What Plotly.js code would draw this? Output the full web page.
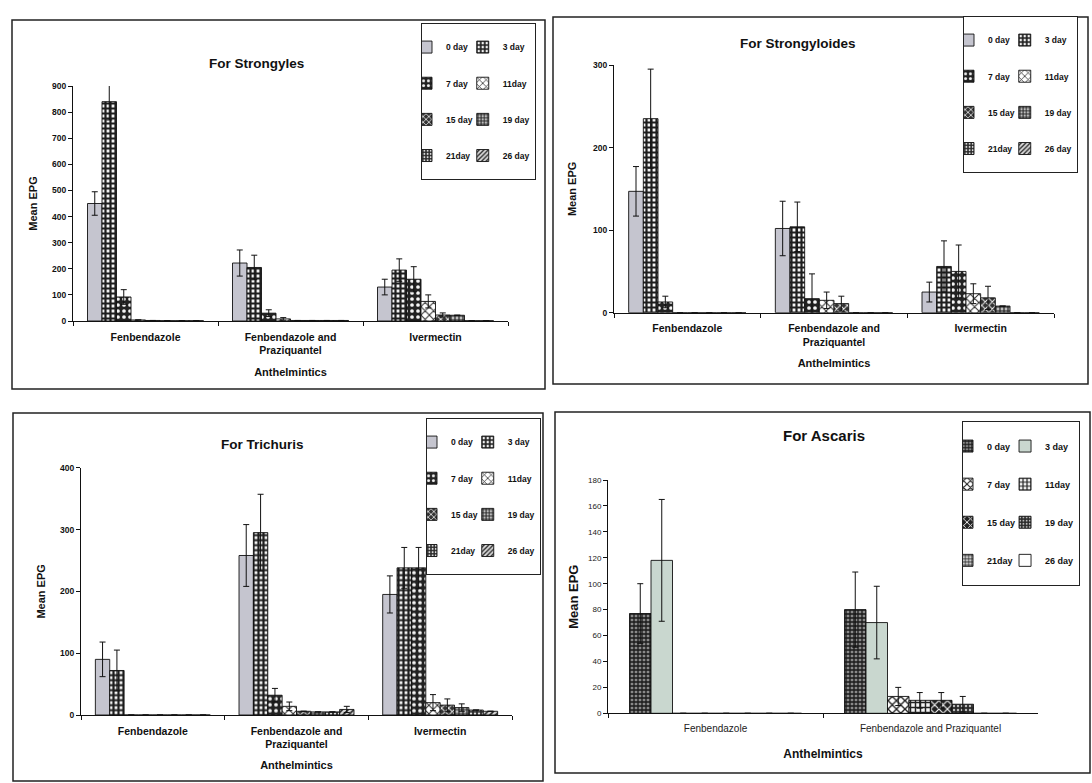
<!DOCTYPE html>
<html><head><meta charset="utf-8">
<script src="https://cdn.plot.ly/plotly-3.0.1.min.js"></script>
<style>html,body{margin:0;padding:0;background:#fff}#chart{width:1092px;height:783px}</style>
</head><body><div id="chart"></div>
<script>
// ---------- data ----------
const dayLabels = ['0 day','3 day','7 day','11day','15 day','19 day','21day','26 day'];
const drugs3 = ['Fenbendazole','Fenbendazole and<br>Praziquantel','Ivermectin'];
const drugs2 = ['Fenbendazole','Fenbendazole and Praziquantel'];

// rows = days (0,3,7,11,15,19,21,26), cols = drugs
const strongylesMean = [[450,222,130],[840,205,195],[92,30,160],[4,8,75],[2,2,23],[1,2,22],[1,2,1],[1,2,1]];
const strongylesErr  = [[45,50,30],[70,47,43],[28,13,48],[0,5,25],[0,0,8],[0,0,0],[0,0,0],[0,0,0]];

const strongyloidesMean = [[147,102,25],[235,104,56],[13,17,50],[0,15,23],[0,11,18],[0,0,8],[0,0,0],[0,0,0]];
const strongyloidesErr  = [[30,33,12],[60,30,31],[7,30,32],[0,10,12],[0,9,14],[0,0,0],[0,0,0],[0,0,0]];

const trichurisMean = [[90,258,195],[72,295,238],[0,32,238],[0,14,20],[0,6,16],[0,5,12],[0,5,8],[0,9,6]];
const trichurisErr  = [[28,50,30],[33,62,33],[0,11,33],[0,7,13],[0,0,10],[0,0,6],[0,0,0],[0,5,0]];

const ascarisMean = [[77,80],[118,70],[0,13],[0,10],[0,10],[0,7],[0,0],[0,0]];
const ascarisErr  = [[23,29],[47,28],[0,7],[0,6],[0,6],[0,6],[0,0],[0,0]];

// ---------- styles ----------
const FONT = 'Liberation Sans, Arial, sans-serif';
const P = (shape, fg, bg, size, solidity) => ({shape, fgcolor: fg, bgcolor: bg, size, solidity, fillmode: 'replace'});
const solid = c => ({color: c});
const stylesA = [ // Strongyles / Strongyloides / Trichuris
  solid('#c5c5cf'),
  {color:'#333', pattern: P('+','#1e1e1e','#f2f2f2',5,0.68)},
  {color:'#333', pattern: P('.','#f4f4f4','#222222',6,0.3)},
  {color:'#fff', pattern: P('x','#2a2a2a','#ffffff',6,0.3)},
  {color:'#555', pattern: P('x','#f0f0f0','#333333',5,0.35)},
  {color:'#333', pattern: P('+','#202020','#bdbdbd',4,0.5)},
  {color:'#333', pattern: P('.','#dddddd','#2b2b2b',4,0.3)},
  {color:'#666', pattern: P('/','#222222','#d8d8d8',4,0.4)}
];
const stylesB = [ // Ascaris
  {color:'#444', pattern: P('+','#1a1a1a','#8a8a8a',4,0.55)},
  solid('#c9d7cf'),
  {color:'#fff', pattern: P('x','#222222','#ffffff',6,0.4)},
  {color:'#333', pattern: P('+','#222222','#f4f4f4',5,0.5)},
  {color:'#333', pattern: P('x','#f4f4f4','#222222',6,0.35)},
  {color:'#333', pattern: P('.','#bbbbbb','#2a2a2a',4,0.3)},
  {color:'#666', pattern: P('+','#222222','#cccccc',4,0.4)},
  solid('#ffffff')
];

const panels = [
  {mean: strongylesMean, err: strongylesErr, cats: drugs3, xa:'x',  ya:'y',  lg:'legend',  st: stylesA},
  {mean: strongyloidesMean, err: strongyloidesErr, cats: drugs3, xa:'x2', ya:'y2', lg:'legend2', st: stylesA},
  {mean: trichurisMean, err: trichurisErr, cats: drugs3, xa:'x3', ya:'y3', lg:'legend3', st: stylesA},
  {mean: ascarisMean, err: ascarisErr, cats: drugs2, xa:'x4', ya:'y4', lg:'legend4', st: stylesB}
];

const traces = [];
panels.forEach((p, pi) => {
  dayLabels.forEach((d, i) => {
    const st = p.st[i];
    const marker = {color: st.color, line: {color: '#111', width: 0.9}};
    if (st.pattern) marker.pattern = st.pattern;
    traces.push({
      type: 'bar', x: p.cats, y: p.mean[i],
      name: ' <br>' + d + '<br> ',
      xaxis: p.xa, yaxis: p.ya, legend: p.lg,
      legendgroup: 'p' + pi + '_' + (i % 2),
      marker: marker, cliponaxis: false,
      error_y: {type: 'data', array: p.err[i], visible: true, color: '#111', thickness: 1, width: 3},
      hoverinfo: 'skip'
    });
  });
});

// ---------- layout ----------
const W = 1092, H = 783;
const px = v => v / W, py = v => 1 - v / H;
const tickY = {family: FONT, size: 8.5, color: '#111', weight: 'bold'};
const tickX = {family: FONT, size: 10.5, color: '#111', weight: 'bold'};
const titleB = {family: FONT, size: 11, color: '#111', weight: 'bold'};

function xAxis(d0, d1, anchor, tickfont, tfont, standoff) {
  return {domain: [px(d0), px(d1)], anchor: anchor, type: 'category', showline: true, linecolor: '#111', linewidth: 1,
    ticks: 'outside', tickson: 'boundaries', ticklen: 4, tickcolor: '#111', showgrid: false, zeroline: false,
    tickfont: tickfont, ticklabelstandoff: 6, automargin: false, fixedrange: true,
    title: {text: 'Anthelmintics', font: tfont, standoff: standoff}};
}
function yAxis(y0, y1, anchor, range, dtick, tickfont, tfont, standoff) {
  return {domain: [py(y0), py(y1)], anchor: anchor, range: range, dtick: dtick, showline: true, linecolor: '#111', linewidth: 1,
    ticks: 'outside', ticklen: 4, tickcolor: '#111', showgrid: false, zeroline: false, tickfont: tickfont,
    automargin: false, fixedrange: true,
    title: {text: 'Mean EPG', font: tfont, standoff: standoff}};
}
function legendAt(right, top, size) {
  return {x: px(right), xanchor: 'right', y: py(top), yanchor: 'top', orientation: 'h',
    bgcolor: '#ffffff', bordercolor: '#222', borderwidth: 1, tracegroupgap: 0, indentation: -15,
    font: {family: FONT, size: size, color: '#111', weight: 'bold'}, itemclick: false, itemdoubleclick: false};
}
function box(x0, y0, x1, y1) {
  return {type: 'rect', xref: 'paper', yref: 'paper', x0: px(x0), x1: px(x1), y0: py(y1), y1: py(y0),
    line: {color: '#222', width: 1.5}, fillcolor: 'rgba(0,0,0,0)', layer: 'below'};
}
function ttl(text, x, y, size) {
  return {text: text, x: px(x), y: py(y), xref: 'paper', yref: 'paper', showarrow: false,
    xanchor: 'center', yanchor: 'middle', font: {family: FONT, size: size, color: '#111', weight: 'bold'}};
}

const layout = {
  width: W, height: H, margin: {l: 0, r: 0, t: 0, b: 0},
  paper_bgcolor: '#ffffff', plot_bgcolor: 'rgba(0,0,0,0)',
  barmode: 'group', bargap: 0.2, bargroupgap: 0,
  font: {family: FONT, color: '#111'},
  xaxis:  xAxis(73, 508, 'y', tickX, titleB, 13),
  yaxis:  yAxis(321, 86, 'x', [0, 900], 100, tickY, titleB, 12),
  xaxis2: xAxis(614, 1054, 'y2', tickX, titleB, 12),
  yaxis2: yAxis(312.7, 65, 'x2', [0, 300], 100, tickY, titleB, 14),
  xaxis3: xAxis(81, 512, 'y3', tickX, titleB, 12),
  yaxis3: yAxis(715, 467.7, 'x3', [0, 400], 100, tickY, titleB, 12),
  xaxis4: xAxis(608, 1038, 'y4', {family: FONT, size: 10, color: '#222'}, {family: FONT, size: 12, color: '#111', weight: 'bold'}, 16),
  yaxis4: yAxis(713.3, 480, 'x4', [0, 180], 20, {family: FONT, size: 8, color: '#222'}, {family: FONT, size: 13, color: '#111', weight: 'bold'}, 6),
  legend:  legendAt(536, 23, 8.5),
  legend2: legendAt(1078, 16, 8.5),
  legend3: legendAt(541, 418, 8.5),
  legend4: legendAt(1080, 421, 9),
  shapes: [box(12, 20, 545, 389), box(553, 17, 1088, 384), box(13, 413, 543, 781), box(555, 412, 1090, 773)],
  annotations: [
    ttl('For Strongyles', 256, 64, 13.5),
    ttl('For Strongyloides', 798, 44, 13.5),
    ttl('For Trichuris', 262, 445, 13.5),
    ttl('For Ascaris', 824, 436, 15)
  ],
  showlegend: true
};

Plotly.newPlot('chart', traces, layout, {displayModeBar: false, staticPlot: true});
</script></body></html>
